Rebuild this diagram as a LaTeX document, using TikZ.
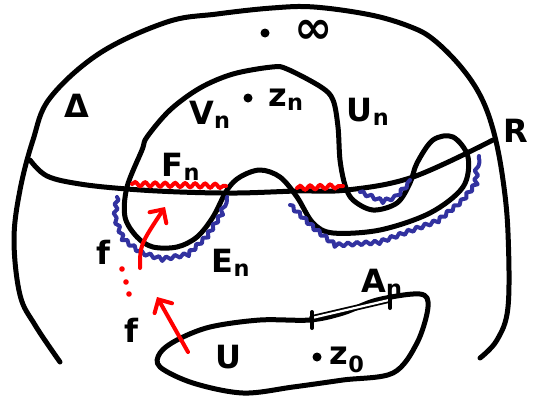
\documentclass[tikz,border=0pt]{standalone}
\usepackage{fontspec}
\setmainfont{DejaVu Sans}
\usetikzlibrary{arrows.meta, decorations.pathmorphing}
\definecolor{penblue}{RGB}{50,50,160}

\begin{document}
\begin{tikzpicture}[
    x=1pt, y=-1pt,
    pen/.style={line width=5pt, line cap=round, line join=round},
    redwave/.style={draw=red, line width=4pt, line cap=round, decorate, decoration={snake, amplitude=2pt, segment length=10pt}},
    bluewave/.style={draw=penblue, line width=4pt, line cap=round, line join=round, decorate, decoration={snake, amplitude=1.8pt, segment length=9pt}},
    redarrow/.style={draw=red, line width=4pt, line cap=round, -{Straight Barb[length=10pt, width=20pt, line cap=round]}},
    lbl/.style={font=\bfseries\fontsize{32}{32}\selectfont, inner sep=0pt},
    spot/.style={circle, fill, inner sep=0pt, minimum size=9pt}
]
\useasboundingbox (0,0) rectangle (543,399);

% The disk Delta
\draw[pen] plot[smooth, tension=0.6] coordinates {(60,362) (35,325) (20,295) (14,240) (20,190) (33,140) (50,98) (100,53) (167,22) (217,14) (272,8) (314,7) (371,15) (411,27) (434,40) (461,67) (481,97) (494,133) (503,180) (508,233) (508,307) (497,340) (480,358)};

% The line R
\draw[pen] plot[smooth, tension=0.6] coordinates {(30,160) (47,176) (80,184) (127,189) (180,192) (237,193) (297,191) (347,190) (413,177) (493,140)};

% U_n with V_n inside
\draw[pen] plot[smooth cycle, tension=0.55] coordinates {(147,137) (170,110) (200,88) (233,74) (272,67) (287,69) (321,87) (333,100) (338,127) (340,160) (345,185) (353,200) (373,210) (397,203) (410,183) (417,163) (433,140) (453,137) (468,157) (463,187) (430,213) (380,230) (333,233) (313,223) (297,197) (280,177) (260,170) (240,177) (227,190) (213,217) (197,237) (177,247) (153,247) (137,237) (125,217) (127,187) (142,150)};

% F_n on R
\draw[redwave] (132,184) -- (226,186);
\draw[redwave] (297,188) -- (343,186);

% E_n
\draw[bluewave] (117,197) -- (115,217) -- (123,237) -- (140,250) -- (163,257) -- (190,252) -- (210,233) -- (223,213) -- (227,197);
\draw[bluewave] (290,205) -- (313,227) -- (333,243) -- (380,240) -- (440,218) -- (462,200) -- (478,180) -- (479,156);
\draw[bluewave] (360,192) -- (380,200) -- (396,195) -- (410,180);

% U and A_n
\draw[pen] plot[smooth cycle, tension=0.55] coordinates {(160,353) (177,340) (210,327) (260,320) (310,320) (343,313) (377,300) (420,294) (428,307) (417,343) (393,373) (343,380) (293,387) (243,393) (193,383) (160,367)};
\draw[line width=1.8pt, double distance=2.2pt, line cap=round] (312,318) -- (389,300);
\draw[pen, line width=4pt] (312,312) -- (312,328);
\draw[pen, line width=4pt] (390,295) -- (390,308);

% the maps f
\coordinate (fstartA) at (140,268);
\coordinate (fendA) at (165,207);
\coordinate (fstartB) at (188,352);
\coordinate (fendB) at (157,297);
\draw[redarrow] (fstartA) .. controls (140,245) .. (fendA);
\draw[redarrow] (fstartB) -- (fendB);
\foreach \px/\py in {122/269, 126/282, 129/294}
    \fill[red] (\px,\py) circle (2.8pt);

% points
\node[spot] (inf) at (265,33) {};
\node[spot] (zn) at (248,98) {};
\node[spot] (zo) at (317,357) {};

% labels
\node[lbl, font=\bfseries\fontsize{46}{46}\selectfont] (infty) at (314,32) {∞};
\node[lbl] (delta) at (77,106) {Δ};
\node[lbl] (vn) at (210,115) {V\textsubscript{n}};
\node[lbl] (znlbl) at (286,100) {z\textsubscript{n}};
\node[lbl] (un) at (368,112) {U\textsubscript{n}};
\node[lbl] (rlbl) at (516,131) {R};
\node[lbl] (fn) at (181,167) {F\textsubscript{n}};
\node[lbl] (en) at (231,263) {E\textsubscript{n}};
\node[lbl] (fa) at (103,252) {f};
\node[lbl] (fb) at (131,330) {f};
\node[lbl] (an) at (382,283) {A\textsubscript{n}};
\node[lbl] (ulbl) at (228,357) {U};
\node[lbl] (zolbl) at (347,360) {z\textsubscript{0}};
\end{tikzpicture}
\end{document}
